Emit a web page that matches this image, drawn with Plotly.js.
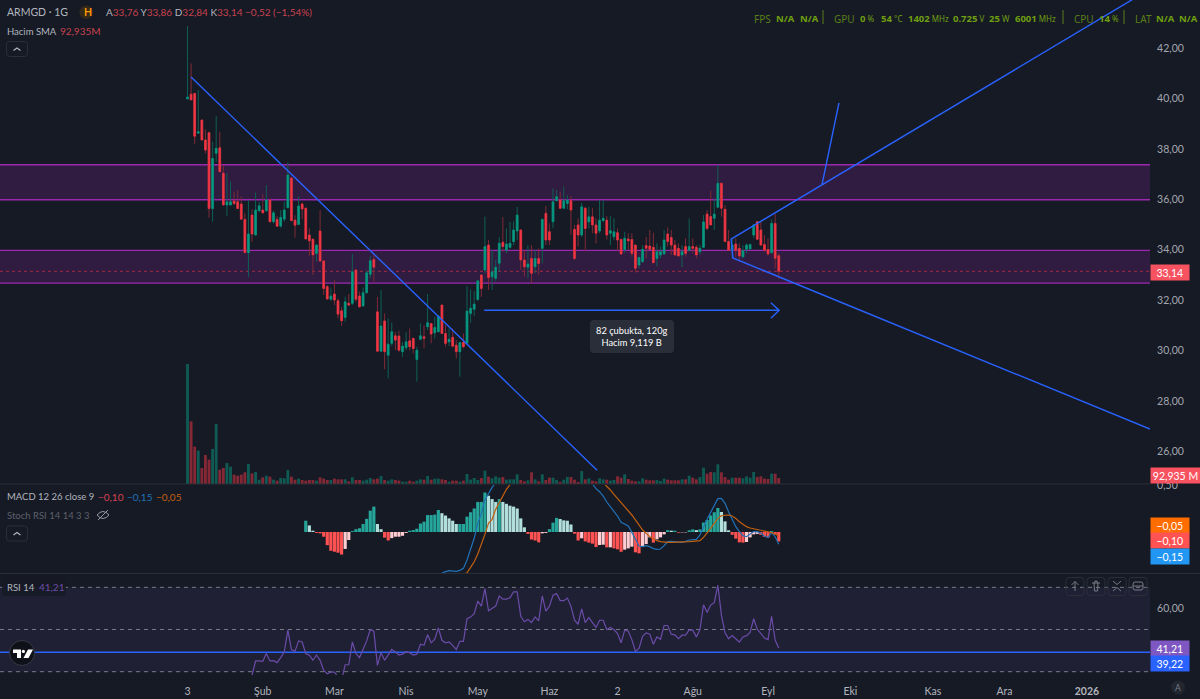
<!DOCTYPE html>
<html>
<head>
<meta charset="utf-8">
<script src="https://cdn.plot.ly/plotly-3.0.1.min.js"></script>
<style>
  html, body { margin: 0; padding: 0; background: #161a25; overflow: hidden; }
  #chart { width: 1200px; height: 699px; }
</style>
</head>
<body>
<div id="chart"></div>
<script>
// daily bars, index 0 is the first bar after the "3" tick
var open = [39.98,40.17,40.2,38.62,39.14,38.35,38.64,35.63,37.82,38.04,
  37.03,35.77,35.77,35.93,35.9,35.81,35.2,33.88,35.37,34.58,
  35.54,35.57,35.54,35.97,35.11,35.2,34.93,35.21,35.66,36.84,
  35.17,35.0,35.81,35.64,34.58,34.41,33.85,34.74,33.55,32.53,
  32.03,32.24,31.97,31.57,31.31,31.87,31.87,33.19,32.16,31.76,
  32.29,33.02,33.61,31.53,29.97,31.17,29.81,30.28,30.58,30.57,
  29.95,30.11,30.38,30.48,29.64,30.44,30.54,30.94,31.07,30.7,
  30.74,31.8,30.67,30.34,30.52,30.21,29.95,30.32,30.28,31.47,
  31.63,32.02,32.99,33.19,34.18,32.92,32.86,33.46,34.29,33.98,
  34.09,34.32,34.74,34.78,33.59,33.3,33.65,33.32,33.65,34.05,
  35.44,34.71,35.11,35.94,35.97,35.64,35.83,35.94,34.8,34.98,
  34.58,35.64,35.1,35.3,34.98,34.74,35.15,35.17,34.65,34.51,
  34.67,34.4,34.0,34.42,34.4,34.18,33.39,33.52,34.16,34.14,
  34.09,33.65,33.79,33.83,34.62,34.48,34.18,34.05,33.79,34.12,
  33.98,34.12,34.09,33.92,34.09,35.41,35.31,35.24,35.68,36.63,
  35.6,34.32,33.98,34.22,34.05,33.72,34.01,34.03,34.58,35.11,
  34.78,34.2,34.0,33.88,35.04,33.76];
var high = [42.87,41.39,40.2,40.33,39.17,38.77,38.68,38.28,39.3,38.68,
  37.36,37.03,36.7,36.3,36.36,36.1,35.44,35.97,35.6,36.27,
  35.9,36.2,36.56,36.03,35.54,35.33,35.57,35.9,37.46,36.87,
  35.37,36.1,35.87,35.68,34.84,34.45,34.22,35.57,33.58,32.59,
  32.46,32.79,32.06,31.73,32.13,32.24,33.82,33.23,32.33,32.5,
  33.19,33.74,33.78,32.13,32.4,31.47,31.27,31.11,30.74,30.78,
  30.34,30.72,30.87,30.48,30.15,31.07,31.0,32.24,31.07,31.34,
  31.4,31.8,31.0,30.87,30.87,30.41,30.34,30.67,32.55,32.42,
  32.35,32.79,33.0,35.31,34.38,33.98,33.59,34.49,35.3,34.84,
  35.1,35.11,35.7,34.8,33.98,34.18,34.18,33.98,34.05,35.24,
  35.73,35.04,36.43,36.36,36.3,36.5,36.17,36.13,34.98,35.24,
  35.86,35.7,35.7,35.64,35.24,35.97,35.97,35.33,35.33,35.24,
  34.84,34.44,34.71,34.65,34.65,34.18,33.72,34.18,34.5,34.78,
  34.67,34.25,34.12,34.78,34.88,34.78,34.38,34.25,34.18,34.45,
  35.24,34.45,34.18,34.18,35.37,35.57,36.34,36.03,37.36,36.66,
  35.77,34.78,34.45,34.45,34.25,34.18,34.25,34.25,35.02,35.11,
  35.11,34.58,34.45,35.2,35.41,33.86];
var low = [39.98,39.94,38.18,38.62,38.35,37.82,35.27,35.11,37.49,37.09,
  35.77,35.33,35.77,35.77,35.63,35.21,33.88,32.92,34.31,34.58,
  35.5,35.44,35.5,35.07,35.04,34.91,34.88,35.11,35.66,35.15,
  34.47,34.97,35.21,34.42,33.76,32.99,33.52,33.52,32.2,32.03,
  31.97,31.8,31.27,30.97,31.14,31.76,31.8,31.93,31.71,31.76,
  32.26,32.86,32.73,29.95,29.97,29.25,28.89,30.17,30.01,29.95,
  29.75,30.01,30.01,29.88,28.76,30.41,30.08,30.81,30.28,30.48,
  30.74,30.67,30.15,30.17,30.15,29.68,28.96,30.08,30.21,31.1,
  31.36,31.97,32.13,33.06,32.4,32.4,32.73,33.12,33.92,33.85,
  34.05,34.18,34.38,33.19,32.93,32.86,32.66,33.06,33.0,33.45,
  34.18,34.18,34.85,35.9,35.64,35.6,35.6,34.58,33.59,34.12,
  34.5,33.92,34.84,34.65,34.25,34.65,35.1,34.4,34.18,34.38,
  33.98,33.79,33.85,33.98,33.72,33.08,33.26,33.48,33.65,34.0,
  33.48,33.33,33.65,33.79,34.12,33.79,33.75,33.72,33.3,33.72,
  33.92,33.85,33.65,33.79,34.05,34.78,34.98,34.78,35.64,35.31,
  34.32,33.98,33.65,33.72,33.59,33.65,33.85,33.98,34.45,34.38,
  34.18,33.92,33.75,33.85,33.26,32.84];
var close = [40.05,39.94,38.5,38.68,38.35,37.95,35.63,37.62,38.02,37.09,
  35.77,35.9,35.9,35.83,35.63,35.21,33.88,34.62,34.62,35.57,
  35.74,35.46,35.97,35.11,35.46,34.93,35.28,35.57,36.96,35.15,
  34.97,35.73,35.61,34.42,34.35,33.79,34.18,33.55,32.46,32.04,
  32.16,32.0,31.44,31.18,31.93,31.8,33.12,32.03,31.73,32.29,
  33.08,33.56,33.3,29.97,30.97,29.95,30.25,30.74,30.41,30.01,
  30.17,30.34,30.15,30.08,30.01,30.58,30.48,31.1,30.65,30.91,
  31.36,30.67,30.28,30.44,30.17,29.95,30.31,30.15,31.56,31.67,
  31.84,32.76,32.46,34.12,32.89,33.12,33.3,34.25,34.12,34.22,
  34.25,34.78,35.37,33.59,33.32,33.43,33.06,33.65,33.45,35.2,
  34.38,34.38,35.9,36.1,35.64,35.94,35.97,35.57,33.65,34.58,
  35.7,34.84,35.3,34.98,34.65,35.17,35.24,34.58,34.75,34.71,
  34.38,33.83,34.45,34.35,33.85,33.26,33.69,34.01,34.05,34.01,
  33.48,33.92,33.92,34.38,34.32,34.18,33.79,33.75,33.92,33.85,
  34.12,34.05,33.79,34.05,35.1,34.84,34.98,35.41,36.63,35.64,
  34.32,33.98,34.18,33.98,33.75,33.96,34.18,34.2,34.98,34.41,
  34.18,33.98,33.83,35.04,33.66,33.14];
// volume in millions
var volume = [1860,971,579,517,248,450,377,543,930,222,
  248,326,269,145,129,145,181,310,165,186,
  67,103,129,114,67,52,93,88,217,114,
  67,83,62,52,62,62,52,103,83,62,
  62,83,72,72,72,41,103,62,62,52,
  67,93,72,83,124,62,52,72,62,52,
  36,36,52,36,52,72,67,124,67,83,
  83,72,62,36,52,52,36,52,155,67,
  93,62,93,207,114,88,119,98,108,67,
  72,72,150,62,41,57,181,72,41,150,
  62,98,98,62,31,67,108,108,67,31,
  201,72,88,52,41,88,72,67,52,62,
  119,98,150,78,52,41,41,88,67,57,
  57,62,47,83,67,57,57,57,72,72,
  129,98,72,108,253,160,186,181,305,181,
  108,67,98,98,98,88,119,98,186,108,
  119,83,78,160,160,92.9];
// histogram starts at bar 33
var macdHist = [.12,.07,.014,-.01,-.014,-.05,-.14,-.2,-.21,-.22,-.24,-.18,-.085,.01,.03,.04,.085,.14,.227,.27,
  .085,.03,-.06,-.09,-.065,-.05,-.05,-.04,-.01,.014,.02,.035,.09,.11,.18,.18,.185,.234,.2,.175,
  .145,.12,.085,.085,.085,.163,.21,.25,.32,.32,.42,.386,.35,.32,.35,.32,.30,.28,.27,.25,
  .145,.05,-.02,-.08,-.09,-.11,-.014,-.01,.03,.1,.15,.138,.124,.12,.08,-.018,-.09,-.067,-.10,-.113,
  -.124,-.16,-.138,-.135,-.163,-.163,-.174,-.184,-.21,-.188,-.174,-.156,-.216,-.227,-.156,-.128,-.057,-.113,-.078,-.057,
  -.025,.02,.014,.014,-.007,-.004,-.004,.018,.028,.02,.028,.1,.128,.177,.21,.255,.213,.113,.018,-.03,
  -.07,-.11,-.113,-.106,-.057,-.025,-.02,-.03,-.05,-.06,.01,-.025,-.10];
// macd line from bar 70, signal from bar 77, null where they leave the pane
var macdLine = [-.457,-.436,-.422,-.411,-.411,-.418,-.408,-.387,-.298,-.191,-.067,.092,.199,.34,.411,.475,.525,
  null,null,null,null,null,null,null,null,null,null,null,null,null,null,null,null,null,null,null,null,null,null,null,null,null,null,
  .511,.461,.429,.383,.319,.27,.227,.17,.103,.082,.064,-.004,-.085,-.149,-.156,-.145,-.156,-.177,-.184,-.181,-.145,-.103,
  -.099,-.103,-.113,-.11,-.099,-.085,-.082,-.078,-.032,.057,.135,.209,.287,.355,.358,.305,.216,.128,.057,.004,
  -.039,-.05,-.025,.004,.004,-.014,-.043,-.057,-.007,-.05,-.131];
var macdSignal = [-.45,-.433,-.376,-.316,-.234,-.138,-.025,.092,.135,.241,.312,.376,.454,.504,
  null,null,null,null,null,null,null,null,null,null,null,null,null,null,null,null,null,null,null,null,null,null,null,null,null,
  .525,.489,.447,.401,.358,.312,.27,.227,.181,.128,.074,.021,-.014,-.05,-.071,-.092,-.103,-.11,-.11,-.11,-.11,-.11,-.11,
  -.106,-.103,-.099,-.099,-.092,-.057,-.014,.039,.092,.145,.174,.181,.181,.17,.145,.11,.082,.057,.043,.035,.028,.014,.004,
  -.004,-.007,-.021,-.043];
// rsi from bar 18
var rsi = [28.3,35.1,35.1,34.9,38.6,35.1,35.2,34.3,36.7,39.4,49.7,40.5,39.7,44.6,44.1,38.6,37.8,35.4,37.9,35.4,
  30.6,29,29.8,29.8,27.5,25.9,33.3,33.3,44.1,38.6,36.7,41,44.6,50,49.2,33,39,35.4,38.1,40.6,
  39.4,37.9,38.3,39.5,39,37.9,38.3,43,42.5,47.5,43.7,45.4,50.8,44.9,43.7,44.1,42.5,40.5,44.4,44.4,
  55.1,55.9,57.5,63.5,61.1,69.4,58.9,60,61.1,65.9,64.4,64.4,65.1,67.9,67.9,56.3,53.7,54.8,53.3,56,
  54.1,65.9,58.7,61.1,66.3,67.1,63.7,63.7,64.9,61.1,54.4,52.5,59.8,53.3,55.7,53.3,51,54.4,54.4,50,
  51,50,48.1,43.7,49.7,49.2,45.2,39.7,41,46.8,48.4,47.8,43,46.5,45.4,51.9,51.9,47.8,47.5,45.7,
  47.3,47.3,49.8,49.7,46.5,50,61.7,58.1,61.6,62.7,71,56.8,48.4,45.6,47.1,45.6,44,46.5,47.1,48.6,
  55.1,50.2,47.8,46,45.2,56.3,44.9,41.2];

var tickBars = [0,21,41,61,81,101,120,141,162,185,208,228,251];
var tickLabels = ['3','Şub','Mar','Nis','May','Haz','2','Ağu','Eyl','Eki','Kas','Ara','<b>2026</b>'];
var priceTicks = [26,28,30,32,34,36,38,40,42];

// drawn trend lines as bar index / price
var trendX = [0.98,114.3];
var trendY = [40.85,25.25];
var wedgeX = [265.3,151.7,152.2,268.6];
var wedgeY = [44.06,34.42,33.67,26.88];
var branchX = [177.1,181.8];
var branchY = [36.6,39.82];
var arrowX = [82.8,165.1];
var arrowY = [31.59,31.59];
var arrowHeadX = [162.8,165.1,162.8];
var arrowHeadY = [31.89,31.59,31.28];

var bandTop = [37.37,33.97];
var bandBottom = [35.98,32.67];
var lastPrice = 33.14;
var rsiLevels = [70,50,30];
var rsiHline = 39.22;

var FONT = 'Lato, sans-serif';
var HUD_FONT = '"Noto Sans", sans-serif';
var BG = '#161a25';
var UP = '#089981', DOWN = '#f23645';
var PW = 1150, PH = 675;

function px(x) { return x / PW; }
function py(y) { return (PH - y) / PH; }
function pt(x, y) { return px(x) + ',' + py(y); }

var bars = [];
for (var i = 0; i < open.length; i++) bars.push(i);

var bodyHigh = open.map(function (o, i) { return Math.max(o, close[i]); });
var bodyLow = open.map(function (o, i) { return Math.min(o, close[i]); });
var volColors = close.map(function (c, i) {
  return c >= open[i] ? 'rgba(8,153,129,0.5)' : 'rgba(242,54,69,0.5)';
});
var histColors = macdHist.map(function (v, i) {
  var prev = i > 0 ? macdHist[i - 1] : 0;
  if (v >= 0) return v >= prev ? '#26a69a' : '#b2dfdb';
  return v < prev ? '#ff5252' : '#ffcdd2';
});

function blueLine(xs, ys, w) {
  return { x: xs, y: ys, type: 'scatter', mode: 'lines', xaxis: 'x', yaxis: 'y',
    line: { color: '#2962ff', width: w || 1.4 }, hoverinfo: 'skip' };
}

var data = [
  // wicks
  { type: 'candlestick', x: bars, open: open, high: high, low: low, close: close, xaxis: 'x', yaxis: 'y',
    whiskerwidth: 0,
    increasing: { line: { color: '#0f5f55', width: 1 }, fillcolor: '#0f5f55' },
    decreasing: { line: { color: '#7e2a36', width: 1 }, fillcolor: '#7e2a36' } },
  // bodies
  { type: 'candlestick', x: bars, open: open, high: bodyHigh, low: bodyLow, close: close, xaxis: 'x', yaxis: 'y',
    whiskerwidth: 0,
    increasing: { line: { color: UP, width: 0.5 }, fillcolor: UP },
    decreasing: { line: { color: DOWN, width: 0.5 }, fillcolor: DOWN } },
  blueLine(trendX, trendY),
  blueLine(wedgeX, wedgeY),
  blueLine(branchX, branchY),
  blueLine(arrowX, arrowY, 1.5),
  blueLine(arrowHeadX, arrowHeadY),
  { type: 'bar', x: bars, y: volume, xaxis: 'x', yaxis: 'y4', width: 0.8, marker: { color: volColors, line: { width: 0 } } },
  { type: 'bar', x: bars.slice(33), y: macdHist, xaxis: 'x', yaxis: 'y2', width: 0.88, marker: { color: histColors, line: { width: 0 } } },
  { type: 'scatter', mode: 'lines', x: bars.slice(70), y: macdLine, xaxis: 'x', yaxis: 'y2', line: { color: '#2172b8', width: 1.2 } },
  { type: 'scatter', mode: 'lines', x: bars.slice(77), y: macdSignal, xaxis: 'x', yaxis: 'y2', line: { color: '#c2600f', width: 1.2 } },
  { type: 'scatter', mode: 'lines', x: bars.slice(18), y: rsi, xaxis: 'x', yaxis: 'y3', line: { color: '#6a4ca8', width: 1.2 } }
];

// pixel helpers for the chrome around the chart
function note(text, x, y, size, color, extra) {
  var a = { text: text, xref: 'paper', yref: 'paper', x: px(x), y: py(y), xanchor: 'left', yanchor: 'middle',
    showarrow: false, font: { family: FONT, size: size, color: color }, borderpad: 0 };
  for (var k in extra) a[k] = extra[k];
  return a;
}
function tag(text, y, color, w) {
  return note(text, 1150, y, 10.5, '#ffffff', { bgcolor: color, width: w || 37.5, height: 15, align: 'center' });
}
function box(x0, y0, x1, y1, r) {
  return 'M' + pt(x0 + r, y0) + ' L' + pt(x1 - r, y0) + ' Q' + pt(x1, y0) + ' ' + pt(x1, y0 + r) +
    ' L' + pt(x1, y1 - r) + ' Q' + pt(x1, y1) + ' ' + pt(x1 - r, y1) +
    ' L' + pt(x0 + r, y1) + ' Q' + pt(x0, y1) + ' ' + pt(x0, y1 - r) +
    ' L' + pt(x0, y0 + r) + ' Q' + pt(x0, y0) + ' ' + pt(x0 + r, y0) + ' Z';
}
function pathShape(path, stroke, fill, w) {
  return { type: 'path', xref: 'paper', yref: 'paper', layer: 'above', path: path,
    line: { color: stroke || 'rgba(0,0,0,0)', width: w === undefined ? 1 : w }, fillcolor: fill || 'rgba(0,0,0,0)' };
}

var shapes = [];
bandTop.forEach(function (t, i) {
  shapes.push({ type: 'rect', xref: 'paper', yref: 'y', x0: 0, x1: 1, y0: bandBottom[i], y1: t, layer: 'below',
    fillcolor: 'rgba(156,39,176,0.2)', line: { width: 0 } });
  [t, bandBottom[i]].forEach(function (v) {
    shapes.push({ type: 'line', xref: 'paper', yref: 'y', x0: 0, x1: 1, y0: v, y1: v, layer: 'below',
      line: { color: '#9c27b0', width: 1.4 } });
  });
});
shapes.push({ type: 'line', xref: 'paper', yref: 'y', x0: 0, x1: 1, y0: lastPrice, y1: lastPrice, layer: 'below',
  line: { color: 'rgba(242,54,69,0.6)', width: 1, dash: 'dot' } });
shapes.push({ type: 'rect', xref: 'paper', yref: 'y3', x0: 0, x1: 1, y0: rsiLevels[2], y1: rsiLevels[0], layer: 'below',
  fillcolor: 'rgba(126,87,194,0.1)', line: { width: 0 } });
rsiLevels.forEach(function (l) {
  shapes.push({ type: 'line', xref: 'paper', yref: 'y3', x0: 0, x1: 1, y0: l, y1: l, layer: 'below',
    line: { color: '#787b86', width: 1, dash: '4px,4px' } });
});
shapes.push({ type: 'line', xref: 'paper', yref: 'y3', x0: 0, x1: 1, y0: rsiHline, y1: rsiHline, layer: 'below',
  line: { color: '#2962ff', width: 1.5 } });
// pane separators
shapes.push({ type: 'line', xref: 'paper', yref: 'paper', x0: 0, x1: px(1150), y0: py(484), y1: py(484), line: { color: '#2a2e39', width: 1 } });
shapes.push({ type: 'line', xref: 'paper', yref: 'paper', x0: 0, x1: px(1200), y0: py(573.5), y1: py(573.5), line: { color: '#2a2e39', width: 1 } });
// legend backing, collapse buttons
shapes.push(pathShape(box(2, 576, 66, 596, 3), null, 'rgba(22,26,37,0.85)', 0));
shapes.push(pathShape(box(6.5, 41.5, 27.5, 56.5, 3), '#2a2e39'));
shapes.push(pathShape('M' + pt(13.5, 50.5) + ' L' + pt(17, 48) + ' L' + pt(20.5, 50.5), '#b2b5be', null, 1.2));
shapes.push(pathShape(box(6.5, 526, 27.5, 541, 3), '#2a2e39'));
shapes.push(pathShape('M' + pt(13.5, 535) + ' L' + pt(17, 532.5) + ' L' + pt(20.5, 535), '#b2b5be', null, 1.2));
// H badge
shapes.push({ type: 'circle', xref: 'paper', yref: 'paper', x0: px(79.5), x1: px(93), y0: py(5.5), y1: py(19), fillcolor: '#35291c', line: { width: 0 } });
// hidden-study eye
shapes.push(pathShape('M' + pt(97, 515) + ' Q' + pt(103, 508) + ' ' + pt(109, 515) + ' Q' + pt(103, 522) + ' ' + pt(97, 515) + ' Z', '#9598a1'));
shapes.push(pathShape('M' + pt(98, 520) + ' L' + pt(108, 510), '#9598a1'));
// tooltip of the range tool
shapes.push(pathShape(box(590, 320, 674, 353, 4), null, '#2a2e39', 0));
// rsi pane toolbar
[[1066, 1084], [1087, 1105], [1108, 1126], [1129, 1147]].forEach(function (b) {
  shapes.push(pathShape(box(b[0], 577.5, b[1], 595.5, 3), '#2a2e39'));
});
var ICON = '#787b86';
shapes.push(pathShape('M' + pt(1075, 591) + ' L' + pt(1075, 581.5) + ' M' + pt(1071.5, 585) + ' L' + pt(1075, 581.5) + ' L' + pt(1078.5, 585), ICON));
shapes.push(pathShape('M' + pt(1092, 583) + ' L' + pt(1100, 583) + ' M' + pt(1094, 583) + ' L' + pt(1094.5, 591) + ' L' + pt(1097.5, 591) + ' L' + pt(1098, 583) + ' M' + pt(1094.5, 583) + ' L' + pt(1095, 581) + ' L' + pt(1097, 581) + ' L' + pt(1097.5, 583), ICON));
shapes.push(pathShape('M' + pt(1113, 581) + ' L' + pt(1117, 584.5) + ' L' + pt(1121, 581) + ' M' + pt(1113, 591) + ' L' + pt(1117, 587.5) + ' L' + pt(1121, 591), ICON));
shapes.push(pathShape(box(1133, 582, 1143, 590, 2) + ' M' + pt(1133, 586) + ' L' + pt(1143, 586), ICON));
// tradingview mark
shapes.push({ type: 'circle', xref: 'paper', yref: 'paper', x0: px(9.5), x1: px(34.5), y0: py(640.5), y1: py(665.5), fillcolor: '#0f1119', line: { color: '#363a45', width: 1 } });
shapes.push(pathShape('M' + pt(13, 649.5) + ' L' + pt(21, 649.5) + ' L' + pt(21, 658) + ' L' + pt(17, 658) + ' L' + pt(17, 653) + ' L' + pt(13, 653) + ' Z', null, '#ffffff', 0));
shapes.push({ type: 'circle', xref: 'paper', yref: 'paper', layer: 'above', x0: px(21.8), x1: px(25), y0: py(649.8), y1: py(653), fillcolor: '#ffffff', line: { width: 0 } });
shapes.push(pathShape('M' + pt(28, 649.5) + ' L' + pt(33, 649.5) + ' L' + pt(28.5, 658) + ' L' + pt(23.5, 658) + ' Z', null, '#ffffff', 0));
// auto scale button
shapes.push({ type: 'circle', xref: 'paper', yref: 'paper', x0: px(1171), x1: px(1185), y0: py(680.5), y1: py(694.5), fillcolor: '#22262f', line: { width: 0 } });
// hud separators
[823, 1063, 1124].forEach(function (x) {
  shapes.push({ type: 'line', xref: 'paper', yref: 'paper', x0: px(x), x1: px(x), y0: py(10), y1: py(24), line: { color: '#5a7d18', width: 1 } });
});

var RED = '#c8424e', GREY = '#b2b5be';
function s(color, text) { return '<span style="color:' + color + '">' + text + '</span>'; }

var annotations = [
  note('ARMGD · 1G', 6, 12.5, 10.5, GREY),
  note('H', 83, 12.5, 10.5, '#ff9800', { font: { family: FONT, size: 10.5, color: '#ff9800', weight: 700 } }),
  note('A' + s(RED, '33,76') + ' Y' + s(RED, '33,86') + ' D' + s(RED, '32,84') + ' K' + s(RED, '33,14') + ' ' + s(RED, '−0,52 (−1,54%)'), 105, 12.5, 10, GREY),
  note('Hacim SMA', 6, 31, 9.5, GREY),
  note('92,935M', 59, 31, 10, RED),
  note('MACD 12 26 close 9', 6, 497, 9.5, GREY),
  note('−0,10', 97, 497, 10, '#d8434f'),
  note('−0,15', 126, 497, 10, '#2172b8'),
  note('−0,05', 155, 497, 10, '#c2600f'),
  note('Stoch RSI 14 14 3 3', 6, 515, 9.5, '#5d606b'),
  note('RSI 14', 6, 587, 9.5, GREY),
  note('41,21', 38, 587, 10, '#6a4ca8'),
  note('82 çubukta, 120g<br>Hacim 9,119 B', 632, 336.5, 9.3, '#ffffff', { xanchor: 'center', align: 'center' }),
  tag('33,14', 272, '#f7525f'),
  tag('92,935 M', 476, '#f7525f', 49),
  tag('−0,05', 525.5, '#ff6d00'),
  tag('−0,10', 540.5, '#ff5252'),
  tag('−0,15', 556, '#2196f3'),
  tag('41,21', 648, '#7e57c2'),
  tag('39,22', 663.5, '#2962ff'),
  note('A', 1178, 687.5, 8.5, '#787b86', { xanchor: 'center' })
];

// overlay readout at the top right
var HUD_DIM = '#5a7d18', HUD_VAL = '#6f9f10';
function hudLabel(t, x) { return note(t, x, 19, 10, HUD_DIM, { font: { family: HUD_FONT, size: 10, color: HUD_DIM } }); }
function hudValue(t, unit, x) {
  return note('<b>' + t + '</b>' + (unit ? '<span style="font-size:8px"> ' + unit + '</span>' : ''), x, 19, 9.5, HUD_VAL,
    { font: { family: HUD_FONT, size: 9.5, color: HUD_VAL } });
}
annotations = annotations.concat([
  hudLabel('FPS', 753), hudValue('N/A', '', 775), hudValue('N/A', '', 798.5),
  hudLabel('GPU', 833), hudValue('0', '%', 859), hudValue('54', '°C', 879.5), hudValue('1402', 'MHz', 906.5),
  hudValue('0.725', 'V', 952), hudValue('25', 'W', 988), hudValue('6001', 'MHz', 1014),
  hudLabel('CPU', 1073), hudValue('14', '%', 1098),
  hudLabel('LAT', 1134), hudValue('N/A', '', 1155), hudValue('N/A', '', 1178)
]);

var tickStyle = { family: FONT, size: 10.5, color: '#a3a6af' };
var layout = {
  width: 1200,
  height: 699,
  margin: { l: 0, r: 50, t: 0, b: 24, pad: 0 },
  paper_bgcolor: BG,
  plot_bgcolor: BG,
  showlegend: false,
  hovermode: false,
  separators: ',.',
  barmode: 'overlay',
  boxmode: 'overlay',
  boxgap: 0.3,
  font: { family: FONT, color: GREY },
  xaxis: {
    anchor: 'y3', range: [-52.33, 268.6], showgrid: false, zeroline: false, showline: false,
    rangeslider: { visible: false }, tickmode: 'array', tickvals: tickBars, ticktext: tickLabels,
    ticks: 'outside', ticklen: 6, tickcolor: 'rgba(0,0,0,0)', tickangle: 0,
    tickfont: { family: FONT, size: 10.5, color: '#b2b5be' }
  },
  yaxis: {
    domain: [191 / 675, 1], anchor: 'x', side: 'right', range: [24.70, 43.905], showgrid: false, zeroline: false,
    tickmode: 'array', tickvals: priceTicks, tickformat: '.2f', ticks: 'outside', ticklen: 4, tickcolor: 'rgba(0,0,0,0)', tickfont: tickStyle
  },
  yaxis2: {
    domain: [102 / 675, 190 / 675], anchor: 'x', side: 'right', range: [-0.436, 0.5], showgrid: false, zeroline: false,
    tickmode: 'array', tickvals: [0.5], tickformat: '.2f', ticks: 'outside', ticklen: 4, tickcolor: 'rgba(0,0,0,0)', tickfont: tickStyle
  },
  yaxis3: {
    domain: [0, 101 / 675], anchor: 'x', side: 'right', range: [28.43, 76.33], showgrid: false, zeroline: false,
    tickmode: 'array', tickvals: [60], tickformat: '.2f', ticks: 'outside', ticklen: 4, tickcolor: 'rgba(0,0,0,0)', tickfont: tickStyle
  },
  yaxis4: {
    domain: [191 / 675, 1], anchor: 'x', overlaying: 'y', side: 'right', range: [0, 7502],
    showgrid: false, zeroline: false, showticklabels: false, ticks: ''
  },
  shapes: shapes,
  annotations: annotations
};

Plotly.newPlot('chart', data, layout, { displayModeBar: false, staticPlot: true });
</script>
</body>
</html>
